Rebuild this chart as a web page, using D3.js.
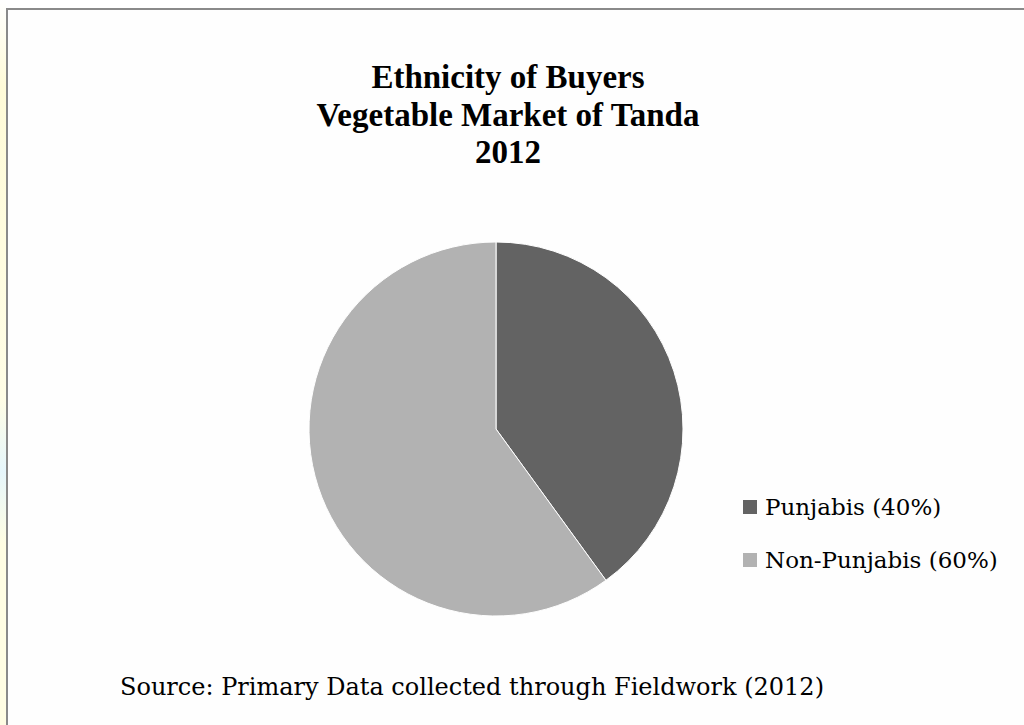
<!DOCTYPE html>
<html>
<head>
<meta charset="utf-8">
<script src="https://cdn.jsdelivr.net/npm/d3@7"></script>
<style>
  body { margin: 0; background: #fff; }
  svg { display: block; }
</style>
</head>
<body>
<div id="chart"></div>
<script>
const categories = ['Punjabis', 'Non-Punjabis'];
const values = [40, 60];
const colors = ['#636363', '#b2b2b2'];
const titleLines = ['Ethnicity of Buyers', 'Vegetable Market of Tanda', '2012'];
const sourceText = 'Source: Primary Data collected through Fieldwork (2012)';

const width = 1024, height = 725;
const titleFont = "'Liberation Serif', 'DejaVu Serif', serif";
const bodyFont = "'DejaVu Serif', 'Liberation Serif', serif";

const svg = d3.select('#chart').append('svg')
    .attr('width', width)
    .attr('height', height);

// faint tinted strip left of the frame
const strip = svg.append('defs').append('linearGradient')
    .attr('id', 'strip').attr('x1', 0).attr('y1', 0).attr('x2', 0).attr('y2', 1);
strip.append('stop').attr('offset', '0%').attr('stop-color', '#ffffff');
strip.append('stop').attr('offset', '12%').attr('stop-color', '#fffbd8');
strip.append('stop').attr('offset', '55%').attr('stop-color', '#fffde6');
strip.append('stop').attr('offset', '65%').attr('stop-color', '#e6f6fb');
strip.append('stop').attr('offset', '75%').attr('stop-color', '#fffde3');
strip.append('stop').attr('offset', '100%').attr('stop-color', '#fffde3');
svg.append('rect').attr('x', 0).attr('y', 0).attr('width', 6).attr('height', height)
    .attr('fill', 'url(#strip)');

// chart frame
svg.append('rect')
    .attr('x', 7).attr('y', 9)
    .attr('width', width + 10).attr('height', height + 10)
    .attr('fill', '#fefefe')
    .attr('stroke', '#8a8a8a')
    .attr('stroke-width', 2);

// title
svg.append('g').selectAll('text').data(titleLines)
    .enter().append('text')
    .attr('x', 508)
    .attr('y', (d, i) => 88 + i * 37.5)
    .attr('text-anchor', 'middle')
    .attr('font-family', titleFont)
    .attr('font-weight', 'bold')
    .attr('font-size', 33)
    .attr('fill', '#000')
    .text(d => d);

// pie
const cx = 496, cy = 429, r = 187;
const pie = d3.pie().sort(null).value(d => d);
const arc = d3.arc().innerRadius(0).outerRadius(r);

svg.append('g')
    .attr('transform', `translate(${cx},${cy})`)
    .selectAll('path').data(pie(values))
    .enter().append('path')
    .attr('d', arc)
    .attr('fill', (d, i) => colors[i])
    .attr('stroke', '#fefefe')
    .attr('stroke-width', 1);

// legend
const legend = svg.append('g').attr('transform', 'translate(743,0)');
const legendY = d3.scalePoint().domain(categories).range([507, 560]);
const items = legend.selectAll('g').data(categories)
    .enter().append('g')
    .attr('transform', d => `translate(0,${legendY(d)})`);
items.append('rect')
    .attr('x', 0).attr('y', -7)
    .attr('width', 14).attr('height', 14)
    .attr('fill', (d, i) => colors[i]);
items.append('text')
    .attr('x', 22).attr('y', 8)
    .attr('font-family', bodyFont)
    .attr('font-size', 23)
    .attr('fill', '#000')
    .text((d, i) => `${d} (${values[i]}%)`);

// source note
svg.append('text')
    .attr('x', 120).attr('y', 695)
    .attr('font-family', bodyFont)
    .attr('font-size', 24)
    .attr('fill', '#000')
    .text(sourceText);
</script>
</body>
</html>
